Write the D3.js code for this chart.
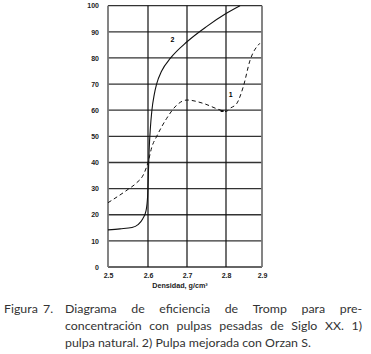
<!DOCTYPE html>
<html>
<head>
<meta charset="utf-8">
<script src="https://cdn.jsdelivr.net/npm/d3@7"></script>
<style>
  body { margin: 0; background: #fff; }
  .tick text { font-family: "Liberation Sans", Arial, sans-serif; font-weight: bold; font-size: 7px; fill: #222; }
</style>
</head>
<body>
<svg id="chart" width="371" height="354"></svg>
<script>
// Data
var xTicks = [2.5, 2.6, 2.7, 2.8, 2.9];
var yTicks = [0, 10, 20, 30, 40, 50, 60, 70, 80, 90, 100];

// curve 2: pulpa mejorada (solid)
var mejoradaX = [2.5, 2.53, 2.56, 2.575, 2.587, 2.595, 2.599, 2.601, 2.603, 2.606, 2.61, 2.616, 2.622, 2.635, 2.658, 2.7, 2.75, 2.8, 2.839];
var mejoradaY = [14.2, 14.6, 15.1, 16.2, 18.5, 21.5, 27, 36, 45, 53, 60, 66, 70, 75, 80, 86.2, 92, 97, 100];

// curve 1: pulpa natural (dashed)
var naturalX = [2.5, 2.55, 2.57, 2.59, 2.6, 2.61, 2.622, 2.648, 2.674, 2.7, 2.742, 2.785, 2.8, 2.811, 2.83, 2.848, 2.867, 2.894];
var naturalY = [24.6, 29.7, 32, 35.8, 40, 46, 49.9, 56.9, 62, 63.9, 62.6, 60.1, 59.5, 60.7, 62.6, 69, 79.2, 85.6];

var axisTitle = "Densidad, g/cm³";
var captionLabel = ["Figura", "7."];
var captionLines = [
  "Diagrama de eficiencia de Tromp para pre-",
  "concentración con pulpas pesadas de Siglo XX. 1)",
  "pulpa natural. 2) Pulpa mejorada con Orzan S."
];

var svg = d3.select("#chart");

// plot area (note: "top" is reserved on window, so plotTop)
var plotLeft = 108, plotRight = 262, plotTop = 5.7, plotBottom = 267;

// the printed grid is not perfectly even, so use a piecewise scale
var xScale = d3.scaleLinear()
               .domain(xTicks)
               .range([108, 148, 187, 226, 262]);
var yScale = d3.scaleLinear()
               .domain([0, 100])
               .range([plotBottom, plotTop]);

// horizontal grid
svg.selectAll("hgrid")
   .data(yTicks)
   .enter()
   .append("line")
   .attr("x1", plotLeft).attr("x2", plotRight)
   .attr("y1", function(d) { return yScale(d); })
   .attr("y2", function(d) { return yScale(d); })
   .attr("stroke", "#333")
   .attr("stroke-width", 1.3);

// vertical grid
svg.selectAll("vgrid")
   .data(xTicks)
   .enter()
   .append("line")
   .attr("y1", plotTop).attr("y2", plotBottom)
   .attr("x1", function(d) { return xScale(d); })
   .attr("x2", function(d) { return xScale(d); })
   .attr("stroke", function(d, i) { return (i == 0 || i == xTicks.length - 1) ? "#777" : "#111"; })
   .attr("stroke-width", function(d, i) { return (i == 0 || i == xTicks.length - 1) ? 1.8 : 1.2; });

// axes (labels only, the grid draws the lines)
var yAxis = d3.axisLeft(yScale).tickValues(yTicks).tickSize(0).tickPadding(9);
svg.append("g")
   .attr("transform", "translate(" + plotLeft + ",0)")
   .call(yAxis)
   .call(function(g) { g.select(".domain").remove(); });

var xAxis = d3.axisBottom(xScale).tickValues(xTicks).tickSize(0).tickPadding(6).tickFormat(d3.format(".1f"));
svg.append("g")
   .attr("transform", "translate(0," + plotBottom + ")")
   .call(xAxis)
   .call(function(g) { g.select(".domain").remove(); });

svg.append("text")
   .attr("x", 180)
   .attr("y", 288)
   .attr("text-anchor", "middle")
   .attr("font-family", "Liberation Sans, Arial, sans-serif")
   .attr("font-weight", "bold")
   .attr("font-size", 7.2)
   .attr("fill", "#222")
   .text(axisTitle);

// curves
var line = d3.line()
             .x(function(d) { return xScale(d[0]); })
             .y(function(d) { return yScale(d[1]); })
             .curve(d3.curveMonotoneX);

svg.append("path")
   .datum(d3.zip(mejoradaX, mejoradaY))
   .attr("d", line)
   .attr("fill", "none")
   .attr("stroke", "#111")
   .attr("stroke-width", 1.1);

svg.append("path")
   .datum(d3.zip(naturalX, naturalY))
   .attr("d", line)
   .attr("fill", "none")
   .attr("stroke", "#111")
   .attr("stroke-width", 1)
   .attr("stroke-dasharray", "4,3");

// small marker on the dashed curve near 2.8
svg.append("rect")
   .attr("x", xScale(2.79) - 1.5)
   .attr("y", yScale(59.7) - 1)
   .attr("width", 3)
   .attr("height", 2)
   .attr("fill", "#111");

// curve labels
svg.append("text")
   .attr("x", xScale(2.663)).attr("y", yScale(86))
   .attr("text-anchor", "middle")
   .attr("font-family", "Liberation Sans, Arial, sans-serif")
   .attr("font-weight", "bold")
   .attr("font-size", 7)
   .text("2");
svg.append("text")
   .attr("x", xScale(2.813)).attr("y", yScale(65))
   .attr("text-anchor", "middle")
   .attr("font-family", "Liberation Sans, Arial, sans-serif")
   .attr("font-weight", "bold")
   .attr("font-size", 7)
   .text("1");

// caption, justified like the original
var capFont = "Lato, sans-serif";
var capLeft = 65, capRight = 362;
var capY = [313, 330, 347];

function drawCaption() {
  // size the font so the last (unjustified) line ends where the original does
  var probe = svg.append("text").attr("font-family", capFont).attr("font-size", 12).text(captionLines[2]);
  var capSize = 12 * (311 - capLeft) / probe.node().getComputedTextLength();
  probe.remove();

  // "Figura" and "7." sit apart, like in the original
  [4, 43].forEach(function(x, i) {
    svg.append("text")
       .attr("x", x).attr("y", capY[0])
       .attr("font-family", capFont).attr("font-size", capSize).attr("fill", "#333")
       .text(captionLabel[i]);
  });

  captionLines.forEach(function(str, li) {
    var words = str.split(" ");
    if (li == captionLines.length - 1) {
      svg.append("text")
         .attr("x", capLeft).attr("y", capY[li])
         .attr("font-family", capFont).attr("font-size", capSize).attr("fill", "#333")
         .text(str);
      return;
    }
    var nodes = words.map(function(w) {
      return svg.append("text")
                .attr("y", capY[li])
                .attr("font-family", capFont).attr("font-size", capSize).attr("fill", "#333")
                .text(w);
    });
    var widths = nodes.map(function(n) { return n.node().getComputedTextLength(); });
    var gap = (capRight - capLeft - d3.sum(widths)) / (words.length - 1);
    var x = capLeft;
    nodes.forEach(function(n, i) {
      n.attr("x", x);
      x += widths[i] + gap;
    });
  });
}
document.fonts.load("12px Lato").then(drawCaption, drawCaption);
</script>
</body>
</html>
